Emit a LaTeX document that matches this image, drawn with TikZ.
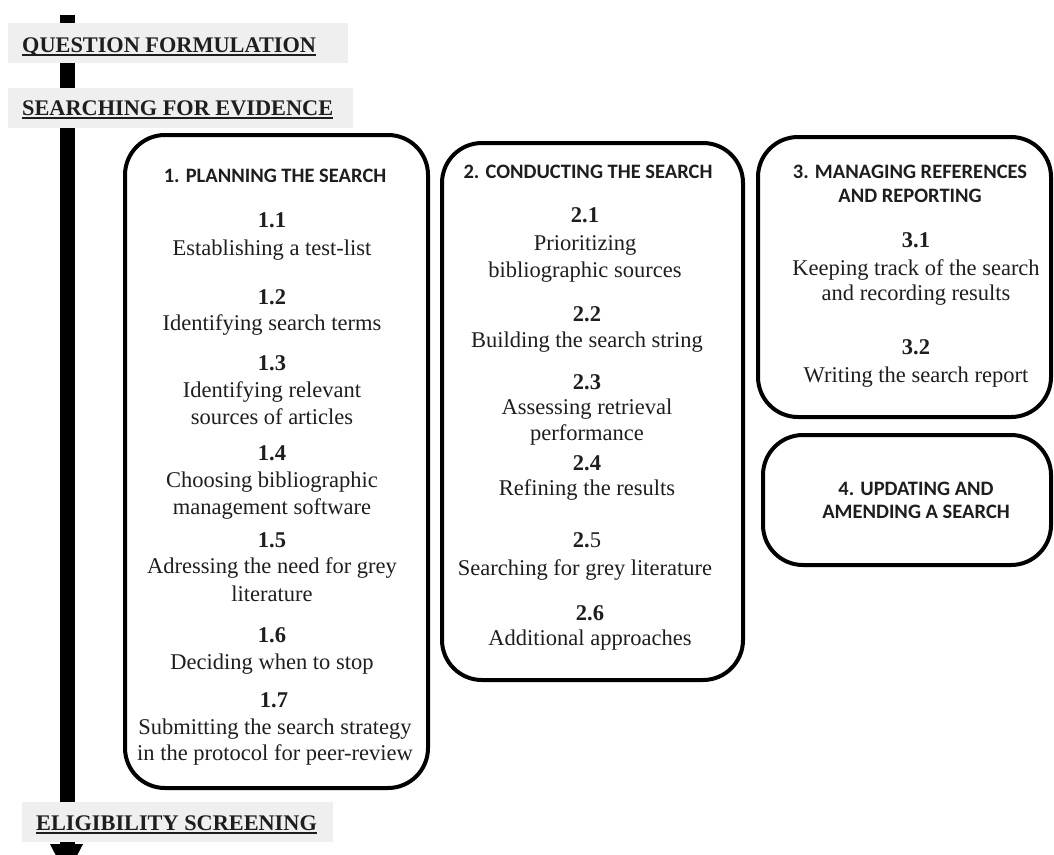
\documentclass[tikz,border=0pt]{standalone}
\usepackage{fontspec}
\setmainfont{Liberation Serif}
\newfontfamily\hdrfont{Carlito}
\newfontfamily\stagefont{Liberation Serif}
\definecolor{stagegray}{HTML}{EFEFEF}
\definecolor{ink}{HTML}{1E1E1E}
\begin{document}
\begin{tikzpicture}[x=1pt,y=-1pt,
  box/.style={draw=black, line width=4pt, rounded corners=40pt, inner sep=0pt},
  hdr/.style={font=\hdrfont\bfseries\fontsize{20.5}{24}\selectfont, text=ink, inner sep=0pt, anchor=base},
  num/.style={font=\rmfamily\bfseries\fontsize{22.5}{27}\selectfont, text=ink, inner sep=0pt, anchor=base},
  txt/.style={font=\rmfamily\fontsize{22.5}{27}\selectfont, text=ink, inner sep=0pt, anchor=base},
  stage/.style={font=\stagefont\bfseries\fontsize{22.3}{27}\selectfont, text=ink, inner sep=0pt, anchor=base west},
  stagebg/.style={fill=stagegray},
  uline/.style={draw=ink, line width=1.8pt},
  bar/.style={fill=black}]
\useasboundingbox (0,0) rectangle (1054,854);
\clip (0,0) rectangle (1054,854);
\fill[white] (0,0) rectangle (1054,854);

% timeline bar and arrow
\fill[bar] (60,15) rectangle (75,848);
\fill[bar] (50,844) -- (83,844) -- (66.5,876) -- cycle;

% stage labels
\fill[stagebg] (8,23) rectangle (348,63);
\node[stage] (qf) at (22,52) {QUESTION FORMULATION};
\draw[uline] ([yshift=-3pt]qf.base west) -- ([yshift=-3pt]qf.base east);

\fill[stagebg] (8,88) rectangle (353,128);
\node[stage] (sfe) at (22,115) {SEARCHING FOR EVIDENCE};
\draw[uline] ([yshift=-3pt]sfe.base west) -- ([yshift=-3pt]sfe.base east);

\fill[stagebg] (22,802) rectangle (333,842);
\node[stage] (es) at (36,830) {ELIGIBILITY SCREENING};
\draw[uline] ([yshift=-3pt]es.base west) -- ([yshift=-3pt]es.base east);

% boxes
\node[box, minimum width=303pt, minimum height=653pt] (b1) at (276.5,461.5) {};
\node[box, minimum width=301pt, minimum height=537pt] (b2) at (592.5,411.5) {};
\node[box, minimum width=293pt, minimum height=280pt] (b3) at (904.5,277) {};
\node[box, minimum width=288pt, minimum height=130pt] (b4) at (907,500) {};

% box 1
\node[hdr] (h1) at (275,182) {1. PLANNING THE SEARCH};
\node[num] (n11) at (272,227) {1.1};
\node[txt] (t11) at (272,255) {Establishing a test-list};
\node[num] (n12) at (272,304) {1.2};
\node[txt] (t12) at (272,330) {Identifying search terms};
\node[num] (n13) at (272,370) {1.3};
\node[txt] (t13a) at (272,397) {Identifying relevant};
\node[txt] (t13b) at (272,424) {sources of articles};
\node[num] (n14) at (272,460) {1.4};
\node[txt] (t14a) at (272,487) {Choosing bibliographic};
\node[txt] (t14b) at (272,514) {management software};
\node[num] (n15) at (272,547) {1.5};
\node[txt] (t15a) at (272,573) {Adressing the need for grey};
\node[txt] (t15b) at (272,601) {literature};
\node[num] (n16) at (272,642) {1.6};
\node[txt] (t16) at (272,669) {Deciding when to stop};
\node[num] (n17) at (274,707) {1.7};
\node[txt] (t17a) at (275,734) {Submitting the search strategy};
\node[txt] (t17b) at (275,760) {in the protocol for peer-review};

% box 2
\node[hdr] (h2) at (588,178) {2. CONDUCTING THE SEARCH};
\node[num] (n21) at (585,222) {2.1};
\node[txt] (t21a) at (585,250) {Prioritizing};
\node[txt] (t21b) at (585,277) {bibliographic sources};
\node[num] (n22) at (587,321) {2.2};
\node[txt] (t22) at (587,347) {Building the search string};
\node[num] (n23) at (587,389) {2.3};
\node[txt] (t23a) at (587,414) {Assessing retrieval};
\node[txt] (t23b) at (587,440) {performance};
\node[num] (n24) at (587,470) {2.4};
\node[txt] (t24) at (587,495) {Refining the results};
\node[txt] (n25) at (587,547) {\textbf{2.}5};
\node[txt] (t25) at (585,575) {Searching for grey literature};
\node[num] (n26) at (590,620) {2.6};
\node[txt] (t26) at (590,645) {Additional approaches};

% box 3
\node[hdr] (h3a) at (910,178) {3. MANAGING REFERENCES};
\node[hdr] (h3b) at (910,202) {AND REPORTING};
\node[num] (n31) at (916,247) {3.1};
\node[txt] (t31a) at (916,275) {Keeping track of the search};
\node[txt] (t31b) at (916,300) {and recording results};
\node[num] (n32) at (916,354) {3.2};
\node[txt] (t32) at (916,382) {Writing the search report};

% box 4
\node[hdr] (h4a) at (916,495) {4. UPDATING AND};
\node[hdr] (h4b) at (916,518) {AMENDING A SEARCH};
\end{tikzpicture}
\end{document}
